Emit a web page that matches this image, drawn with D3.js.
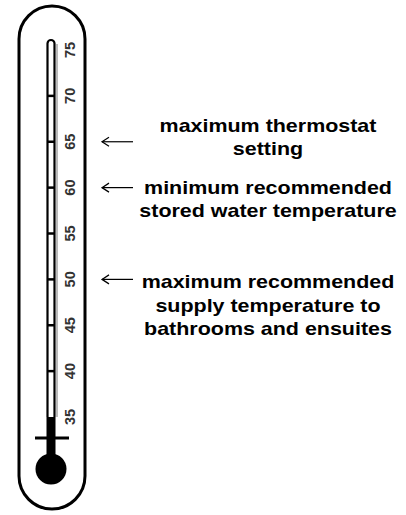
<!DOCTYPE html>
<html>
<head>
<meta charset="utf-8">
<script src="https://cdn.jsdelivr.net/npm/d3@7"></script>
<style>
  body { margin: 0; background: #fff; }
  svg { display: block; }
</style>
</head>
<body>
<svg width="406" height="515"></svg>
<script>
// scale values on the thermometer
const tickTemps = [35, 40, 45, 50, 55, 60, 65, 70, 75]
const mercuryTemp = 35

// notes pointing at the scale
const noteTemps = [65, 60, 50]
const noteLines = [
    ["maximum thermostat", "setting"],
    ["minimum recommended", "stored water temperature"],
    ["maximum recommended", "supply temperature to", "bathrooms and ensuites"]
]

const svg = d3.select("svg")
const width = +svg.attr("width")
const height = +svg.attr("height")

const y = d3.scaleLinear()
    .domain([35, 75])
    .range([417, 50])

const tubeX = 51
const tubeW = 7

// outer capsule
const capL = 19, capR = 85, capTop = 6, capBot = 509
const r = (capR - capL) / 2
svg.append("path")
    .attr("d", `M${capL},${capTop + r} A${r},${r} 0 0 1 ${capR},${capTop + r}
        L${capR},${capBot - r} A${r},${r} 0 0 1 ${capL},${capBot - r} Z`)
    .attr("fill", "none")
    .attr("stroke", "#000")
    .attr("stroke-width", 3)

// shadow on the right of the tube
svg.append("line")
    .attr("x1", tubeX + tubeW / 2 + 2.5).attr("x2", tubeX + tubeW / 2 + 2.5)
    .attr("y1", y(75) - 6).attr("y2", y(mercuryTemp))
    .attr("stroke", "#bbb")
    .attr("stroke-width", 2)

// glass tube
const tubeTop = y(75) - 10
svg.append("path")
    .attr("d", `M${tubeX - tubeW / 2},${y(mercuryTemp)} L${tubeX - tubeW / 2},${tubeTop + tubeW / 2}
        A${tubeW / 2},${tubeW / 2} 0 0 1 ${tubeX + tubeW / 2},${tubeTop + tubeW / 2}
        L${tubeX + tubeW / 2},${y(mercuryTemp)}`)
    .attr("fill", "#fff")
    .attr("stroke", "#000")
    .attr("stroke-width", 2.2)

// tick marks across the tube
svg.selectAll(".tick")
    .data(tickTemps.filter(t => t > mercuryTemp && t < 75))
    .enter().append("line")
    .attr("x1", tubeX - tubeW / 2).attr("x2", tubeX + tubeW / 2)
    .attr("y1", d => y(d)).attr("y2", d => y(d))
    .attr("stroke", "#000")
    .attr("stroke-width", 2.5)

// mercury column and bulb
const bulbY = 469
svg.append("rect")
    .attr("x", tubeX - tubeW / 2 - 1)
    .attr("y", y(mercuryTemp))
    .attr("width", tubeW + 2)
    .attr("height", bulbY - y(mercuryTemp))
    .attr("fill", "#000")

svg.append("circle")
    .attr("cx", tubeX)
    .attr("cy", bulbY)
    .attr("r", 15.5)
    .attr("fill", "#000")

// cross bar
svg.append("line")
    .attr("x1", 35).attr("x2", 69)
    .attr("y1", 438).attr("y2", 438)
    .attr("stroke", "#000")
    .attr("stroke-width", 3)

// scale labels, rotated
svg.selectAll(".lbl")
    .data(tickTemps)
    .enter().append("text")
    .attr("transform", d => `translate(70, ${y(d)}) rotate(-90)`)
    .attr("text-anchor", "middle")
    .attr("dy", "0.36em")
    .style("font-family", "Liberation Sans, Arial, sans-serif")
    .style("font-weight", "bold")
    .style("font-size", "14.5px")
    .attr("fill", "#333")
    .text(d => d)

// arrows
const arrows = svg.selectAll(".arrow")
    .data(noteTemps)
    .enter().append("g")
    .attr("transform", d => `translate(0, ${y(d)})`)

arrows.append("line")
    .attr("x1", 102).attr("x2", 133)
    .attr("y1", 0).attr("y2", 0)
    .attr("stroke", "#000")
    .attr("stroke-width", 1.2)

arrows.append("path")
    .attr("d", "M109,-4.5 L102,0 L109,4.5")
    .attr("fill", "none")
    .attr("stroke", "#000")
    .attr("stroke-width", 1.2)

// note text
const firstLineOffset = [-10, 6, 9]
const lineGap = 23.5
const noteX = 268

noteTemps.forEach((t, i) => {
    const g = svg.append("g")
        .attr("transform", `translate(${noteX}, ${y(t) + firstLineOffset[i]}) scale(1.16, 1)`)
    g.selectAll("text")
        .data(noteLines[i])
        .enter().append("text")
        .attr("x", 0)
        .attr("y", (d, j) => j * lineGap)
        .attr("text-anchor", "middle")
        .style("font-family", "Liberation Sans, Arial, sans-serif")
        .style("font-weight", "bold")
        .style("font-size", "18.5px")
        .attr("fill", "#000")
        .text(d => d)
})
</script>
</body>
</html>
